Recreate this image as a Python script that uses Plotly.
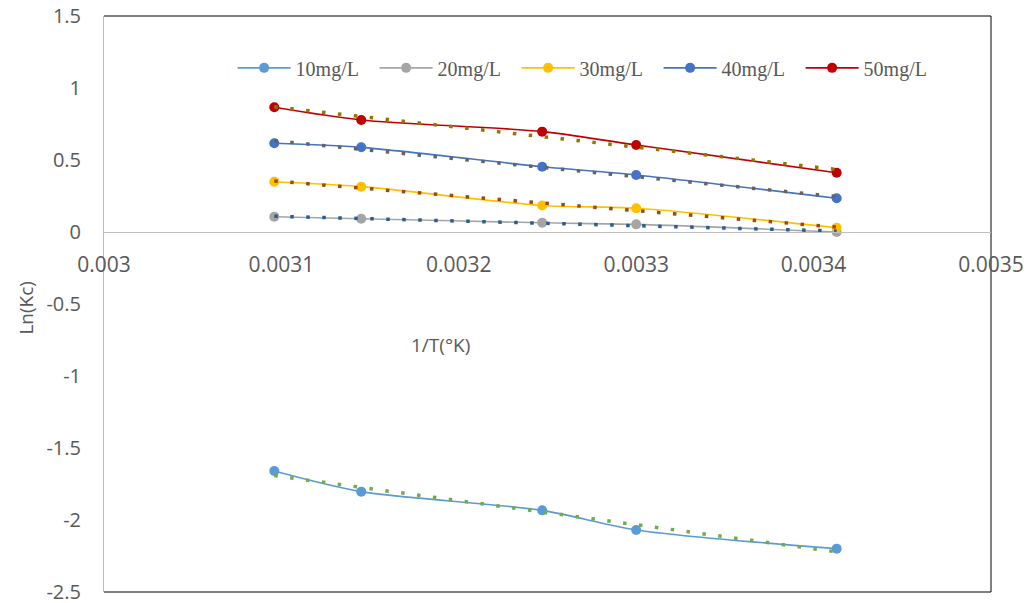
import numpy as np
import plotly.graph_objects as go

# Data
inv_T = [0.003096, 0.003145, 0.003247, 0.003300, 0.003413]
series_names = ["10mg/L", "20mg/L", "30mg/L", "40mg/L", "50mg/L"]
ln_kc_10 = [-1.660, -1.803, -1.933, -2.069, -2.199]
ln_kc_20 = [0.106, 0.092, 0.064, 0.053, 0.000]
ln_kc_30 = [0.349, 0.315, 0.184, 0.165, 0.030]
ln_kc_40 = [0.616, 0.588, 0.453, 0.396, 0.234]
ln_kc_50 = [0.866, 0.778, 0.697, 0.604, 0.412]
series_values = [ln_kc_10, ln_kc_20, ln_kc_30, ln_kc_40, ln_kc_50]

x_tickvals = [0.003, 0.0031, 0.0032, 0.0033, 0.0034, 0.0035]
x_ticktext = ["0.003", "0.0031", "0.0032", "0.0033", "0.0034", "0.0035"]
y_tickvals = [1.5, 1, 0.5, 0, -0.5, -1, -1.5, -2, -2.5]
y_ticktext = ["1.5", "1", "0.5", "0", "-0.5", "-1", "-1.5", "-2", "-2.5"]

series_colors = ["#5B9BD5", "#A5A5A5", "#FFC000", "#4472C4", "#C00000"]
trend_colors = ["#70AD47", "#255E91", "#9E480E", "#636363", "#997300"]

fig = go.Figure()

for name, vals, col in zip(series_names, series_values, series_colors):
    fig.add_trace(go.Scatter(
        x=inv_T, y=vals, name=name, mode="lines+markers",
        line=dict(color=col, width=1.6, shape="spline", smoothing=0.8),
        marker=dict(color=col, size=10, symbol="circle"),
    ))

xa = np.array(inv_T)
for vals, col in zip(series_values, trend_colors):
    m, b = np.polyfit(xa, np.array(vals), 1)
    xt = [inv_T[0], inv_T[-1]]
    yt = [m * v + b for v in xt]
    fig.add_trace(go.Scatter(
        x=xt, y=yt, mode="lines", showlegend=False, hoverinfo="skip",
        line=dict(color=col, width=3.5, dash="3.5px,12.5px"),
    ))

tick_font = dict(family="Open Sans", size=20, color="#595959")

fig.update_layout(
    width=1027, height=603,
    margin=dict(l=104, r=36, t=16, b=11, autoexpand=False),
    paper_bgcolor="white", plot_bgcolor="white",
    showlegend=True,
    legend=dict(
        orientation="h", x=0.145, y=0.91, xanchor="left", yanchor="middle",
        font=dict(family="Liberation Serif", size=20, color="#595959"),
        itemwidth=53, entrywidth=74, bgcolor="rgba(0,0,0,0)",
    ),
    xaxis=dict(
        range=[0.003, 0.0035], tickvals=x_tickvals, ticktext=x_ticktext,
        showgrid=False, zeroline=False, showline=True, linecolor="#BFBFBF",
        linewidth=1, anchor="free", position=0.625, ticks="",
        tickfont=dict(family="Open Sans", size=21, color="#595959"),
        ticklabelstandoff=14, automargin=False, ticklabeloverflow="allow",
    ),
    yaxis=dict(
        range=[-2.5, 1.5], tickvals=y_tickvals, ticktext=y_ticktext,
        showgrid=False, zeroline=False, showline=True, linecolor="#BFBFBF",
        linewidth=1, ticks="", tickfont=tick_font, domain=[0, 1],
        ticklabelstandoff=18, automargin=False, ticklabeloverflow="allow",
    ),
    shapes=[
        dict(type="line", xref="paper", yref="paper", x0=0, x1=1, y0=1, y1=1,
             line=dict(color="#000000", width=1), layer="below"),
        dict(type="line", xref="paper", yref="paper", x0=1, x1=1, y0=0, y1=1,
             line=dict(color="#000000", width=1), layer="below"),
        dict(type="line", xref="paper", yref="paper", x0=0, x1=1, y0=0, y1=0,
             line=dict(color="#000000", width=1), layer="below"),
    ],
    annotations=[
        dict(text="1/T(°K)", xref="paper", yref="paper", x=0.379, y=0.4288,
             showarrow=False, xanchor="center", yanchor="middle",
             font=dict(family="Open Sans", size=19, color="#595959")),
        dict(text="Ln(Kc)", xref="paper", yref="paper", x=-0.0884, y=0.493,
             showarrow=False, xanchor="center", yanchor="middle", textangle=-90,
             font=dict(family="Open Sans", size=19, color="#595959")),
    ],
)

fig.write_html(
    "out.html",
    config={"displayModeBar": False},
    post_script="document.body.style.margin='0';document.body.style.overflow='hidden';",
)
